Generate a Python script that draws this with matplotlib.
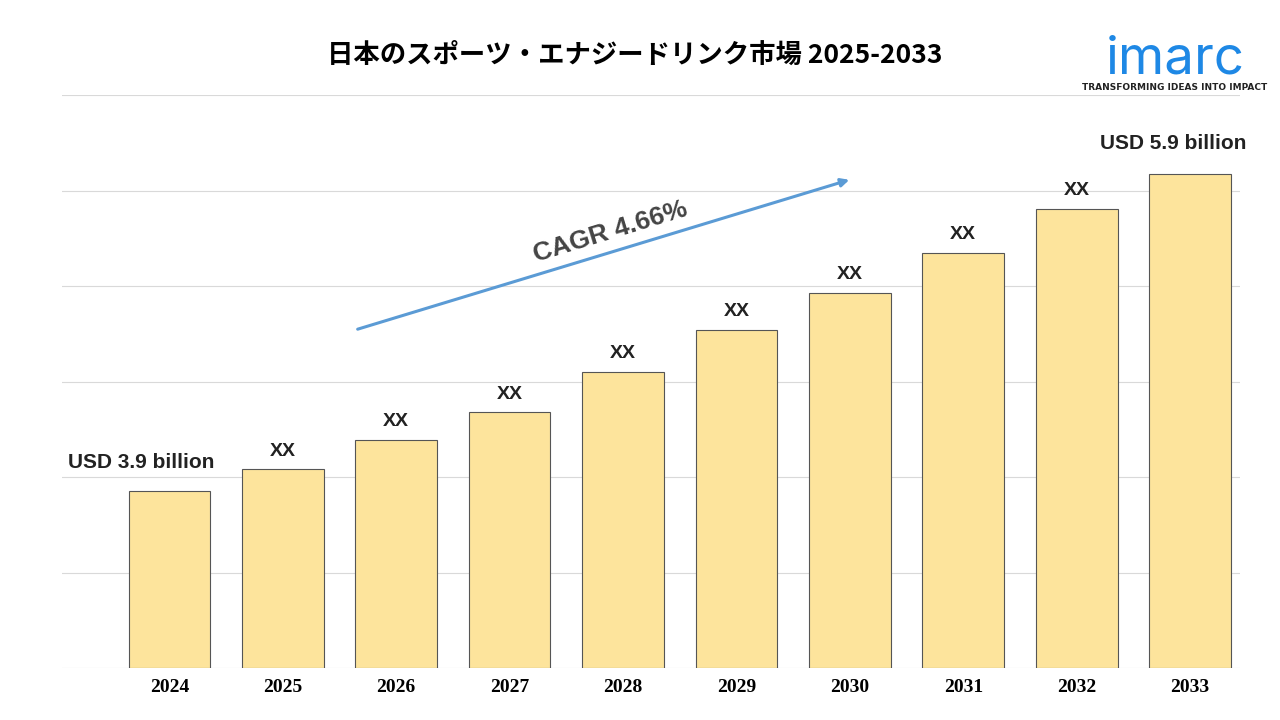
import matplotlib
matplotlib.use("Agg")
import matplotlib.pyplot as plt

years = ["2024","2025","2026","2027","2028","2029","2030","2031","2032","2033"]
values = [1.85, 2.08, 2.39, 2.68, 3.10, 3.54, 3.93, 4.35, 4.81, 5.17]
labels = ["USD 3.9 billion","XX","XX","XX","XX","XX","XX","XX","XX","USD 5.9 billion"]
title = "日本のスポーツ・エナジードリンク市場 2025-2033"

fig = plt.figure(figsize=(12.8, 7.2), dpi=100)
ax = fig.add_axes([62/1280, 52/720, 1178/1280, 573/720])
x = list(range(len(years)))
ax.bar(x, values, width=0.72, color="#FDE49C", edgecolor="#555555", linewidth=0.8, zorder=3)
ax.set_ylim(0, 6)
ax.set_xlim(-0.947, 9.44)
ax.set_yticks([0,1,2,3,4,5,6])
ax.yaxis.grid(True, color="#d9d9d9", linewidth=0.8, zorder=0)
ax.tick_params(axis="y", left=False, labelleft=False)
ax.tick_params(axis="x", length=0, pad=8)
ax.set_xticks(x)
ax.set_xticklabels(years, fontfamily="Liberation Serif", fontweight="bold", fontsize=14)
for s in ax.spines.values():
    s.set_visible(False)
sans = "Liberation Sans"
for i, (v, l) in enumerate(zip(values, labels)):
    if i == 0:
        ax.text(i - 0.25, v + 0.2, l, ha="center", va="bottom", fontsize=15, fontweight="bold", color="#222", fontfamily=sans)
    elif i == len(values) - 1:
        ax.text(i - 0.15, v + 0.22, l, ha="center", va="bottom", fontsize=15, fontweight="bold", color="#222", fontfamily=sans)
    else:
        ax.text(i, v + 0.1, l, ha="center", va="bottom", fontsize=14, fontweight="bold", color="#222", fontfamily=sans)

fig.text(635/1280, 1 - 55/720, title, ha="center", va="center", fontsize=19, fontweight="bold",
         fontfamily="Noto Sans CJK JP")
fig.add_artist(matplotlib.patches.FancyArrowPatch((355/1280, 1 - 330/720), (852/1280, 1 - 179/720),
               transform=fig.transFigure, arrowstyle="-|>", mutation_scale=12, color="#5B9BD5", lw=2.2))
fig.text(610/1280, 1 - 232/720, "CAGR 4.66%", ha="center", va="center", fontsize=19, fontweight="bold",
         color="#444", rotation=17, fontfamily=sans)
fig.text(1175/1280, 1 - 60/720, "imarc", ha="center", va="center", fontsize=38, color="#1E88E5",
         fontfamily="Inter")
fig.text(1175/1280, 1 - 87/720, "TRANSFORMING IDEAS INTO IMPACT", ha="center", va="center", fontsize=6.5,
         fontweight="bold", color="#222")
fig.savefig("out.png", dpi=100)
